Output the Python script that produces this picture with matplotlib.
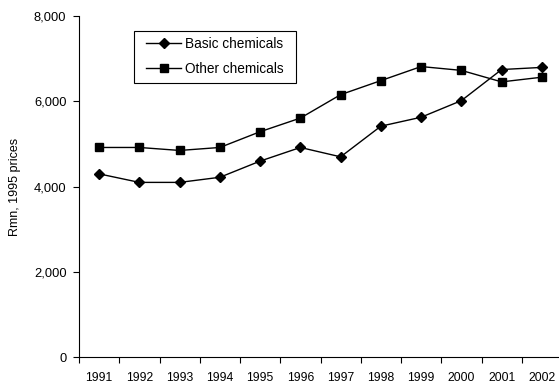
import matplotlib.pyplot as plt
import numpy as np
from matplotlib.ticker import FuncFormatter, FixedLocator
from matplotlib.patches import Rectangle

plt.rcParams['font.family'] = ['Liberation Sans', 'DejaVu Sans']

years = ['1991', '1992', '1993', '1994', '1995', '1996',
         '1997', '1998', '1999', '2000', '2001', '2002']
basic = [4300, 4100, 4100, 4220, 4600, 4920, 4700, 5420, 5630, 6020, 6750, 6800]
other = [4920, 4920, 4850, 4920, 5290, 5610, 6160, 6490, 6820, 6730, 6460, 6570]

W, H = 559, 385
fig = plt.figure(figsize=(W / 100, H / 100), dpi=100)
ax = fig.add_axes([79 / W, 28 / H, 483 / W, 340.7 / H])

x = np.arange(len(years))
ax.plot(x, basic, color='black', lw=1, marker='D', ms=5, label='Basic chemicals')
ax.plot(x, other, color='black', lw=1, marker='s', ms=5.5, label='Other chemicals')

ax.set_xlim(-0.5, len(years) - 0.5)
ax.set_ylim(0, 8000)
ax.set_yticks([0, 2000, 4000, 6000, 8000])
ax.yaxis.set_major_formatter(FuncFormatter(lambda v, p: f'{int(v):,}'))
ax.set_xticks(x)
ax.set_xticklabels(years)
ax.xaxis.set_minor_locator(FixedLocator(np.arange(-0.5, len(years), 1)))
ax.tick_params(axis='x', which='major', length=0, pad=11, labelsize=8.7)
ax.tick_params(axis='x', which='minor', length=4, width=0.8, direction='out')
ax.tick_params(axis='y', length=4, width=0.8, labelsize=9.3, pad=5)

for s in ['top', 'right']:
    ax.spines[s].set_visible(False)

ax.set_ylabel('Rmn, 1995 prices', fontsize=9, labelpad=9)

# legend box (drawn separately so the padding matches)
fig.patches.append(Rectangle((134 / W, (H - 83) / H), 162 / W, 52 / H,
                             transform=fig.transFigure, fill=False,
                             edgecolor='black', lw=0.8))
leg = ax.legend(loc='upper left', bbox_to_anchor=(146 / W, (H - 36.5) / H),
                bbox_transform=fig.transFigure, frameon=False, fontsize=9.8,
                handlelength=2.6, handletextpad=0.3, borderpad=0,
                borderaxespad=0, labelspacing=0.85)

fig.savefig('out.png', dpi=100)
